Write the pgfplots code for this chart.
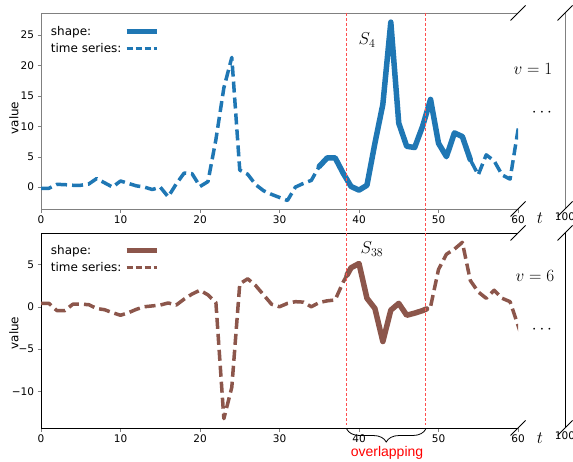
\documentclass[border=0pt]{standalone}
\usepackage{fontspec}
\setmainfont{DejaVu Sans}
\newfontfamily\arialf{Liberation Sans}
\usepackage{pgfplots}
\usepackage{pgfplotstable}
\pgfplotsset{compat=1.18}
\usetikzlibrary{decorations.pathreplacing}

\definecolor{tabblue}{HTML}{1F77B4}
\definecolor{tabbrown}{HTML}{8C564B}
\definecolor{redline}{HTML}{FF4F4F}

% series v=1 (full) and its shape S_4
\pgfplotstableread{
t v
0 -0.2
1 -0.2
2 0.45
3 0.4
4 0.3
5 0.3
6 0.5
7 1.4
8 0.7
9 0.0
10 1.0
11 0.6
12 0.2
13 0.0
14 -0.4
15 0.0
16 -1.6
17 0.5
18 2.3
19 2.2
20 0.1
21 0.9
22 7.8
23 16.3
24 21.3
25 2.8
26 2.1
27 0.4
28 -0.6
29 -1.2
30 -1.7
31 -2.2
32 0.0
33 0.6
34 1.1
35 3.4
36 4.8
37 4.8
38 2.3
39 0.1
40 -0.5
41 0.3
42 7.2
43 13.6
44 27.1
45 10.5
46 6.7
47 6.5
48 10.0
49 14.4
50 7.2
51 5.0
52 8.9
53 8.3
54 4.5
55 2.0
56 5.3
57 4.3
58 2.0
59 1.3
60 9.4
61 14.0
}\tsA

\pgfplotstableread{
t v
35 3.4
36 4.8
37 4.8
38 2.3
39 0.1
40 -0.5
41 0.3
42 7.2
43 13.6
44 27.1
45 10.5
46 6.7
47 6.5
48 10.0
49 14.4
50 7.2
51 5.0
52 8.9
53 8.3
54 4.5
}\shA

% series v=6 (full) and its shape S_38
\pgfplotstableread{
t v
0 0.4
1 0.4
2 -0.45
3 -0.45
4 0.3
5 0.3
6 0.25
7 -0.2
8 -0.35
9 -0.7
10 -1.0
11 -0.7
12 -0.3
13 0.0
14 0.1
15 0.2
16 0.45
17 0.2
18 0.9
19 1.5
20 1.95
21 1.4
22 0.5
23 -13.2
24 -9.5
25 2.7
26 3.3
27 2.5
28 1.4
29 0.3
30 0.0
31 0.4
32 0.6
33 0.55
34 0.0
35 0.5
36 0.7
37 0.8
38 2.9
39 4.6
40 5.1
41 1.0
42 -0.2
43 -4.1
44 -0.4
45 0.4
46 -1.0
47 -0.75
48 -0.45
49 0.0
50 4.4
51 6.2
52 6.8
53 7.6
54 3.1
55 1.75
56 1.0
57 1.95
58 1.0
59 0.6
60 -2.2
61 -5.0
}\tsB

\pgfplotstableread{
t v
38.5 3.75
39 4.6
40 5.1
41 1.0
42 -0.2
43 -4.1
44 -0.4
45 0.4
46 -1.0
47 -0.75
48 -0.45
48.5 -0.25
}\shB

\pgfplotsset{
  mainax/.style={
    scale only axis, width=477bp,
    xmin=0, xmax=60,
    axis x line*=box, axis y line*=left,
    xtick={0,10,...,60}, xtick pos=left, ytick pos=left,
    tick align=outside, major tick length=3.5bp,
    tick label style={font=\fontsize{10.5bp}{12bp}\selectfont},
    /pgf/number format/assume math mode=true,
    ylabel={value},
    legend plot pos=right,
    legend cell align=left,
    legend image code/.code={\draw[##1] (0bp,0bp) -- (30bp,0bp);},
  },
  leg/.style={legend style={at={(0.01,#1)}, anchor=north west, draw=none, fill=none,
      font=\fontsize{12bp}{14bp}\selectfont, row sep=2.5bp,
      /tikz/column sep=1bp}},
  ylab/.style={every axis y label/.style={at={(axis description cs:-0.057,#1)},
      rotate=90, anchor=center, font=\fontsize{12bp}{14bp}\selectfont}},
  sideax/.style={
    scale only axis, width=40bp,
    xmin=100, xmax=110,
    axis y line*=left, axis x line*=bottom,
    x axis line style={draw=none}, xtick={100}, ytick=\empty,
    xtick style={draw=none}, major tick length=3.5bp,
    tick label style={font=\fontsize{10.5bp}{12bp}\selectfont},
    /pgf/number format/assume math mode=true,
  },
  ts/.style={line width=3.5bp, dash pattern=on 11bp off 5bp, line join=round},
  shp/.style={line width=5.5bp, line join=round, line cap=round},
}

\begin{document}
\begin{tikzpicture}[x=1bp,y=1bp]
\path[use as bounding box] (0,0) rectangle (573,-462);

% ---- top panel, v = 1
\begin{axis}[mainax, ylab=0.464, leg=0.955, at={(41bp,-13bp)}, anchor=north west, height=196bp,
  ymin=-3.6, ymax=28.6, ytick={0,5,...,25},
  axis line style={gray}, every tick/.append style={gray}]
\addlegendimage{tabblue, line width=4.5bp}
\addlegendentry{shape:}
\addlegendimage{tabblue, line width=3bp, dash pattern=on 6bp off 3bp}
\addlegendentry{time series:}
\addplot[tabblue, ts] table[x=t, y=v] {\tsA};
\addplot[tabblue, shp] table[x=t, y=v] {\shA};
\coordinate (ra) at (axis cs:38.45,28.6);
\coordinate (rb) at (axis cs:48.4,28.6);
\end{axis}
\begin{axis}[sideax, at={(565bp,-13bp)}, anchor=north west, height=196bp,
  ymin=-3.6, ymax=28.6, axis line style={gray}]
\end{axis}

% ---- bottom panel, v = 6
\begin{axis}[mainax, ylab=0.487, leg=0.96, at={(41bp,-233bp)}, anchor=north west, height=195bp,
  ymin=-14.3, ymax=8.7, ytick={-10,-5,0,5}, yticklabels={−10,−5,0,5}]
\addlegendimage{tabbrown, line width=4.5bp}
\addlegendentry{shape:}
\addlegendimage{tabbrown, line width=3bp, dash pattern=on 6bp off 3bp}
\addlegendentry{time series:}
\addplot[tabbrown, ts] table[x=t, y=v] {\tsB};
\addplot[tabbrown, shp] table[x=t, y=v] {\shB};
\coordinate (ra2) at (axis cs:38.45,-14.3);
\coordinate (rb2) at (axis cs:48.4,-14.3);
\end{axis}
\begin{axis}[sideax, at={(565bp,-233bp)}, anchor=north west, height=195bp,
  ymin=-14.3, ymax=8.7]
\end{axis}

% break marks
\foreach \yy in {-13,-209,-233,-428} {
  \draw[line width=0.8bp] (510.5,\yy-7.5) -- (525.5,\yy+7.5);
  \draw[line width=0.8bp] (557.5,\yy-7.5) -- (572.5,\yy+7.5);
}

% overlap markers
\draw[redline, line width=1.4bp, dash pattern=on 3bp off 2bp] (ra) -- ([yshift=3bp]ra2);
\draw[redline, line width=1.4bp, dash pattern=on 3bp off 2bp] (rb) -- ([yshift=3bp]rb2);
\draw[decorate, decoration={brace, amplitude=13bp, mirror}, line width=0.8bp]
  ([yshift=-1bp]ra2) -- ([yshift=-1bp]rb2);
\node[red, font=\arialf\fontsize{14bp}{16bp}\selectfont] at (387,-453) {overlapping};

% annotations
\node[font=\fontsize{17bp}{19bp}\selectfont] at (367,-40) {$S_4$};
\node[font=\fontsize{17bp}{19bp}\selectfont] at (372,-249) {$S_{38}$};
\node[font=\fontsize{16.5bp}{18bp}\selectfont] at (533,-69) {$v=1$};
\node[font=\fontsize{16.5bp}{18bp}\selectfont] at (535,-276) {$v=6$};
\node[font=\fontsize{16.5bp}{18bp}\selectfont] at (542,-113) {$\cdots$};
\node[font=\fontsize{16.5bp}{18bp}\selectfont] at (542,-330) {$\cdots$};
\node[font=\fontsize{16.5bp}{18bp}\selectfont] at (540,-218) {$t$};
\node[font=\fontsize{16.5bp}{18bp}\selectfont] at (540,-438) {$t$};
\end{tikzpicture}
\end{document}
